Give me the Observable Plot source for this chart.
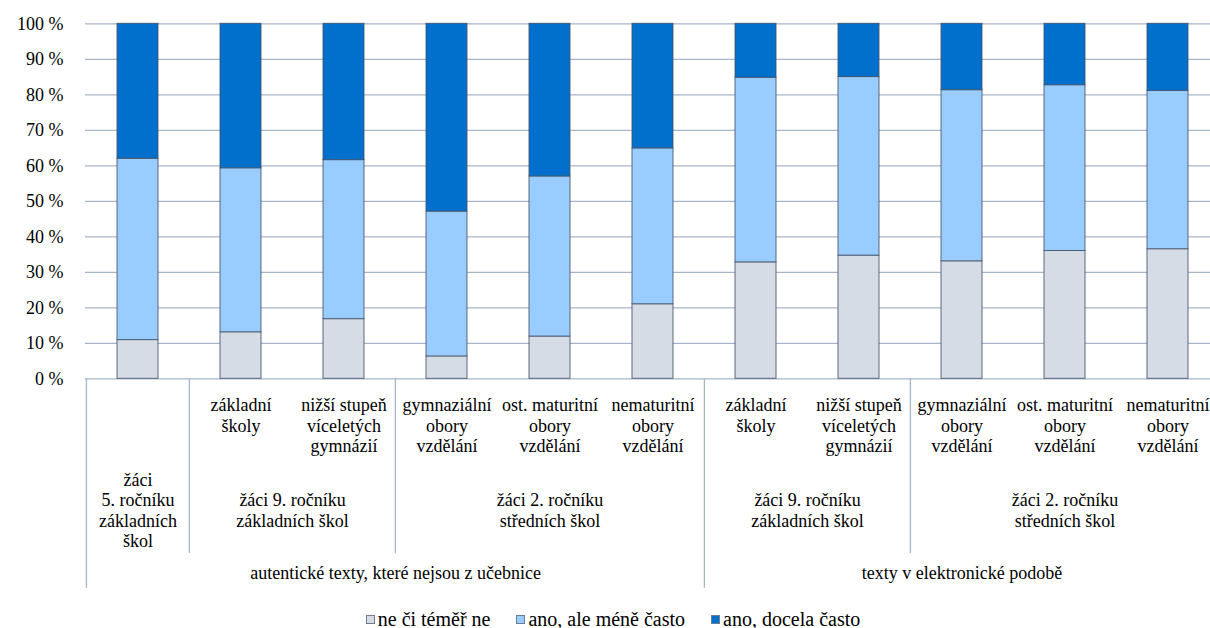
<!DOCTYPE html>
<html><head><meta charset="utf-8">
<script src="https://cdn.jsdelivr.net/npm/d3@7"></script>
<script src="https://cdn.jsdelivr.net/npm/@observablehq/plot@0.6"></script>
<style>
html,body{margin:0;padding:0;background:#fff;overflow:hidden;width:1210px;height:628px}
#chart svg{display:block;overflow:hidden}
#chart svg text{font-family:"Liberation Serif","Times New Roman",Tinos,"DejaVu Serif",serif}
#legend{position:absolute;top:607px;left:0;width:1226px;text-align:center;font-family:"Liberation Serif","Times New Roman",Tinos,"DejaVu Serif",serif;font-size:20px;line-height:24px;color:#000;white-space:nowrap}
#legend .item{display:inline-block;margin:0 13px}
#legend .sw{display:inline-block;width:7px;height:7px;border:1px solid #6f7d92;margin-right:3px;vertical-align:2px}
</style></head><body>
<div id="chart"></div><div id="legend"></div>
<script>
// ---- data ----
const ids = ["c1","c2","c3","c4","c5","c6","c7","c8","c9","c10","c11"];
const level1 = ["", "základní\nškoly", "nižší stupeň\nvíceletých\ngymnázií", "gymnaziální\nobory\nvzdělání", "ost. maturitní\nobory\nvzdělání", "nematuritní\nobory\nvzdělání",
  "základní\nškoly", "nižší stupeň\nvíceletých\ngymnázií", "gymnaziální\nobory\nvzdělání", "ost. maturitní\nobory\nvzdělání", "nematuritní\nobory\nvzdělání"];
const level2Labels = ["žáci\n5. ročníku\nzákladních\nškol", "žáci 9. ročníku\nzákladních škol", "žáci 2. ročníku\nstředních škol", "žáci 9. ročníku\nzákladních škol", "žáci 2. ročníku\nstředních škol"];
const level2From = [0, 1, 3, 6, 8];
const level2To   = [0, 2, 5, 7, 10];
const level3Labels = ["autentické texty, které nejsou z učebnice", "texty v elektronické podobě"];
const level3From = [0, 6];
const level3To   = [5, 10];
const series = ["ne či téměř ne", "ano, ale méně často", "ano, docela často"];
const neCiTemerNe   = [10.9, 13.1, 16.8, 6.3, 11.9, 21.0, 32.8, 34.7, 33.1, 36.0, 36.5];
const anoMeneCasto  = [51.1, 46.2, 44.8, 40.8, 45.1, 43.9, 52.0, 50.3, 48.2, 46.7, 44.6];
const anoDocelaCasto= [38.0, 40.7, 38.4, 52.9, 43.0, 35.1, 15.2, 15.0, 18.7, 17.3, 18.9];
const colors = ["#D6DCE5", "#99CCFF", "#0070CC"];
const yTicks = [0,10,20,30,40,50,60,70,80,90,100];

// ---- build ----
const values = [neCiTemerNe, anoMeneCasto, anoDocelaCasto];
const rows = [];
series.forEach((s, si) => ids.forEach((id, i) => rows.push({id, series: s, value: values[si][i]})));

const font = "'Liberation Serif', 'Times New Roman', Tinos, 'DejaVu Serif', serif";
const xRange = [84.4, 1219.6];
const step = (xRange[1] - xRange[0]) / ids.length;
const half = step / 2;
const gridColor = "#A7B5CA";

function groups(labels, from, to) {
  return labels.map((label, k) => {
    const mid = (from[k] + to[k]) / 2;
    return {label, id: ids[Math.floor(mid)], between: mid % 1 !== 0};
  });
}
const g2 = groups(level2Labels, level2From, level2To);
const g3 = groups(level3Labels, level3From, level3To);

const sectionEdges = level3From.map(i => ({id: ids[i]}));
const groupEdges = level2From.filter(i => !level3From.includes(i)).map(i => ({id: ids[i]}));
const deepY = -59.0, midY = -49.2;
const txt = {fontSize: 18, fontFamily: font, fill: "#000"};

const plot = Plot.plot({
  width: 1210,
  height: 600,
  marginLeft: 85,
  marginRight: 0,
  marginTop: 23,
  marginBottom: 222,
  style: {fontSize: "18px", color: "#000", background: "#fff"},
  x: {domain: ids, range: xRange, paddingInner: 0.603, paddingOuter: 0.3015, axis: null},
  y: {domain: [0, 100], range: [378.3, 23.3], axis: null},
  color: {domain: series, range: colors},
  marks: [
    Plot.ruleY(yTicks, {stroke: gridColor, strokeWidth: 1.3}),
    Plot.barY(rows, {x: "id", y: "value", fill: "series", stroke: "#44546A", strokeWidth: 1, strokeOpacity: 0.85}),
    Plot.axisY({ticks: yTicks, tickFormat: d => d + " %", tickSize: 0, tickPadding: 22, label: null, anchor: "left", ...txt}),
    Plot.ruleX(sectionEdges, {x: "id", y1: 0, y2: deepY, dx: -half, stroke: gridColor, strokeWidth: 1.3}),
    Plot.ruleX([{id: ids[ids.length - 1]}], {x: "id", y1: 0, y2: deepY, dx: half, stroke: gridColor, strokeWidth: 1.3}),
    Plot.ruleX(groupEdges, {x: "id", y1: 0, y2: midY, dx: -half, stroke: gridColor, strokeWidth: 1.3}),
    Plot.text(ids.map((id, i) => ({id, label: level1[i]})), {x: "id", y: 0, dy: 18, text: "label", lineAnchor: "top", lineHeight: 1.14, ...txt}),
    Plot.text(g2.filter(d => !d.between), {x: "id", y: 0, dy: 131, text: "label", lineAnchor: "middle", lineHeight: 1.14, ...txt}),
    Plot.text(g2.filter(d => d.between), {x: "id", y: 0, dx: half, dy: 131, text: "label", lineAnchor: "middle", lineHeight: 1.14, ...txt}),
    Plot.text(g3.filter(d => !d.between), {x: "id", y: 0, dy: 194, text: "label", lineAnchor: "middle", ...txt}),
    Plot.text(g3.filter(d => d.between), {x: "id", y: 0, dx: half, dy: 194, text: "label", lineAnchor: "middle", ...txt})
  ]
});
document.getElementById("chart").appendChild(plot);

const legend = document.getElementById("legend");
series.forEach((s, i) => {
  const item = document.createElement("span");
  item.className = "item";
  const sw = document.createElement("span");
  sw.className = "sw";
  sw.style.background = colors[i];
  item.appendChild(sw);
  item.appendChild(document.createTextNode(s));
  legend.appendChild(item);
});
</script>
</body></html>
